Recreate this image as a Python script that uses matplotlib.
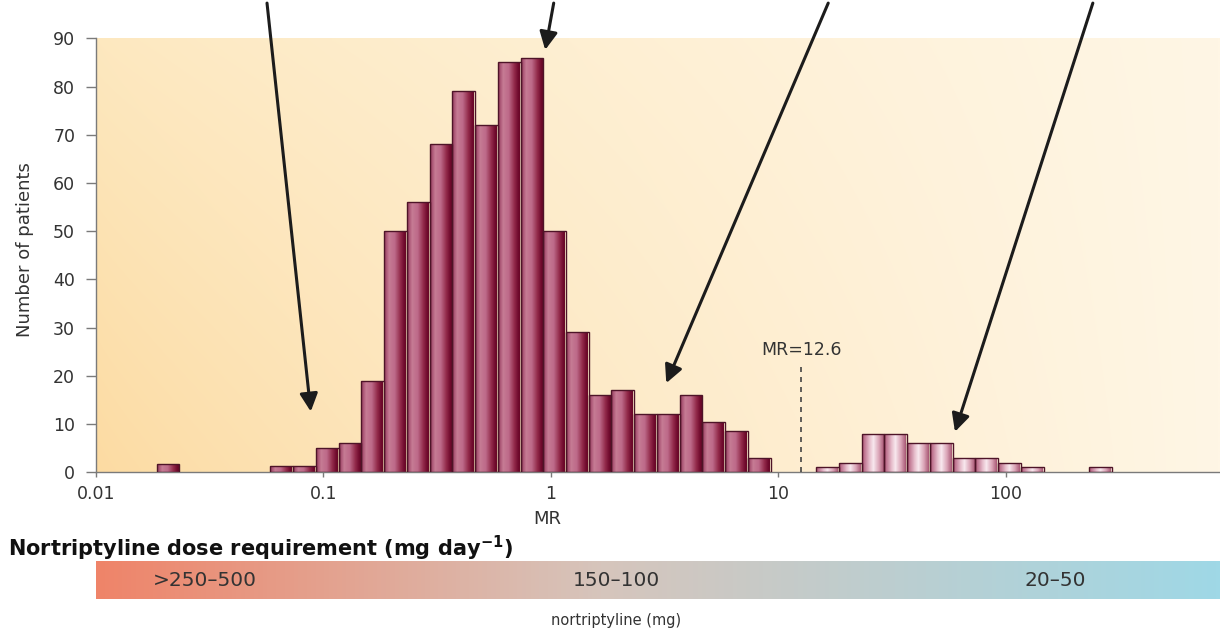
import numpy as np
import matplotlib
matplotlib.use("Agg")
import matplotlib.pyplot as plt
from matplotlib.colors import LinearSegmentedColormap, to_rgb
from matplotlib.ticker import NullLocator

# --- data -----------------------------------------------------------------
# histogram of metabolic ratio (MR), log10 bins of 0.1 decade
bin_start_log = -1.733
bin_width_log = 0.1
patient_counts = [1.8, 0, 0, 0, 0, 1.4, 1.4, 5, 6, 19,
                  50, 56, 68, 79, 72, 85, 86, 50, 29, 16,
                  17, 12, 12, 16, 10.5, 8.6, 3, 0, 0, 1,
                  2, 8, 8, 6, 6, 3, 3, 2, 1, 0,
                  0, 1]
mr_cutoff = 12.6
cutoff_line_top = 22.3

x_ticks = [0.01, 0.1, 1, 10, 100]
x_tick_labels = ["0.01", "0.1", "1", "10", "100"]
y_ticks = [0, 10, 20, 30, 40, 50, 60, 70, 80, 90]

# arrows (tail above the plot -> tip), in MR / patient units
arrow_tail_mr = [0.0565, 1.03, 16.6, 242]
arrow_tail_n = [97.3, 97.3, 97.3, 97.3]
arrow_tip_mr = [0.088, 0.945, 3.22, 59.9]
arrow_tip_n = [12.6, 87.6, 18.5, 8.4]

dose_labels = [">250–500", "150–100", "20–50"]
dose_label_pos = [0.097, 0.463, 0.853]

# --- figure ---------------------------------------------------------------
W, H = 1220, 636
fig = plt.figure(figsize=(W / 100, H / 100), dpi=100)
ax = fig.add_axes([96 / W, (H - 472.3) / H, 1 - 96 / W, 434 / H])

ax.set_xscale("log")
ax.set_xlim(0.01, 877)
ax.set_ylim(0, 90)
ax.set_autoscale_on(False)

# warm background gradient (more orange bottom-left, paler to the right)
nx, ny = 300, 100
gx = np.linspace(0, 1, nx)[None, :, None] ** 0.8
gy = np.linspace(0, 1, ny)[:, None, None]
left_bot = np.array(to_rgb("#fcdba2"))
left_top = np.array(to_rgb("#fde8bf"))
right = np.array(to_rgb("#fff6e5"))
left_col = left_bot * (1 - gy) + left_top * gy
bg = left_col * (1 - gx) + right * gx
ax.imshow(bg, extent=[0, 1, 0, 1], transform=ax.transAxes, origin="lower",
          aspect="auto", zorder=0, interpolation="bilinear")

# bars with a cylinder-like gradient
main_cmap = LinearSegmentedColormap.from_list(
    "main", [(0, "#9a4063"), (0.18, "#c67b94"), (0.42, "#bd6a89"),
             (0.68, "#922a4a"), (0.86, "#700b2d"), (1, "#640524")])
pale_cmap = LinearSegmentedColormap.from_list(
    "pale", [(0, "#b25c7c"), (0.28, "#e6bccb"), (0.45, "#f8e8ee"),
             (0.7, "#dba6b8"), (1, "#9c4464")])
grad = np.linspace(0, 1, 64)[None, :]

edges = 10 ** (bin_start_log + bin_width_log * np.arange(len(patient_counts) + 1))
lefts, rights = edges[:-1], edges[1:]
bars = ax.bar(lefts, patient_counts, width=rights - lefts, align="edge",
              fill=False, edgecolor="#4e1428", linewidth=1.0, zorder=3)
for bar, l, r, n in zip(bars, lefts, rights, patient_counts):
    if n <= 0:
        bar.set_visible(False)
        continue
    cmap = pale_cmap if l > mr_cutoff else main_cmap
    im = ax.imshow(grad, extent=[l, r, 0, n], cmap=cmap, aspect="auto",
                   zorder=2, interpolation="bilinear")
    im.set_clip_path(bar)

# cut-off line
ax.plot([mr_cutoff, mr_cutoff], [0, cutoff_line_top], ls=(0, (3, 3)),
        color="#444444", lw=1.2, zorder=3)
ax.text(mr_cutoff, 25.4, f"MR={mr_cutoff}", ha="center", va="center",
        fontsize=12.5, color="#333333")

# arrows
for tx, ty, hx, hy in zip(arrow_tail_mr, arrow_tail_n, arrow_tip_mr, arrow_tip_n):
    ax.annotate("", xy=(hx, hy), xytext=(tx, ty), annotation_clip=False,
                arrowprops=dict(arrowstyle="-|>,head_length=0.6,head_width=0.3",
                                color="#1c1c1c", lw=2.2,
                                mutation_scale=18, shrinkA=0, shrinkB=0),
                zorder=5)

# axes styling
for s in ("top", "right"):
    ax.spines[s].set_visible(False)
for s in ("left", "bottom"):
    ax.spines[s].set_color("#7a7a7a")
    ax.spines[s].set_linewidth(1.0)
ax.set_xticks(x_ticks)
ax.set_xticklabels(x_tick_labels)
ax.xaxis.set_minor_locator(NullLocator())
ax.set_yticks(y_ticks)
ax.tick_params(axis="y", length=7, width=1, color="#7a7a7a", pad=8,
               labelsize=12.5, labelcolor="#333333")
ax.tick_params(axis="x", length=3.5, width=1, color="#7a7a7a", pad=6,
               labelsize=12.5, labelcolor="#333333")

fig.text(547 / W, (H - 519) / H, "MR", ha="center", va="center",
         fontsize=13, color="#333333")
fig.text(25 / W, (H - 250) / H, "Number of patients", rotation=90,
         ha="center", va="center", fontsize=13, color="#333333")

# dose requirement scale
fig.text(8 / W, (H - 548) / H,
         r"Nortriptyline dose requirement (mg day$^{\mathbf{-1}}$)",
         ha="left", va="center", fontsize=15, fontweight="bold", color="#111111")
cax = fig.add_axes([96 / W, (H - 599) / H, 1124 / W, 38 / H])
dose_cmap = LinearSegmentedColormap.from_list(
    "dose", [(0, "#ef8469"), (0.45, "#d6c5bc"), (1, "#9fd8e6")])
cax.imshow(np.linspace(0, 1, 256)[None, :], cmap=dose_cmap, aspect="auto",
           extent=[0, 1, 0, 1])
cax.set_axis_off()
for lab, pos in zip(dose_labels, dose_label_pos):
    cax.text(pos, 0.5, lab, transform=cax.transAxes, ha="center", va="center",
             fontsize=14.5, color="#333333")
fig.text(616 / W, (H - 620) / H, "nortriptyline (mg)", ha="center",
         va="center", fontsize=10.5, color="#333333")

fig.savefig("out.png", dpi=100)
